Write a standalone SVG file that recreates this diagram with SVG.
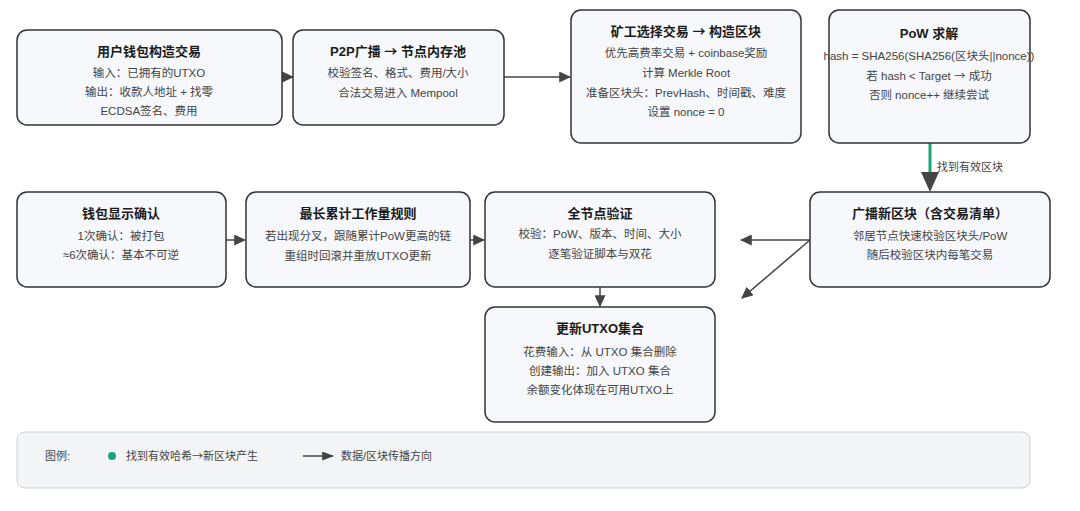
<svg xmlns="http://www.w3.org/2000/svg" width="1080" height="511" viewBox="0 0 1080 511">
<defs>
<style>
text{font-family:"Liberation Sans","Noto Sans CJK SC",sans-serif;text-anchor:middle;fill:#333}
.t{font-size:13px;font-weight:bold;fill:#1a1a1a}
.b{font-size:11.5px;fill:#444}
.n{fill:#f6f8fc;stroke:#333;stroke-width:1.5}
.c{stroke:#444;stroke-width:1.5;fill:none}
.l{text-anchor:start;font-size:11px;fill:#444}
.ar{font-family:"Noto Sans CJK SC",sans-serif}
</style>
<marker id="a" viewBox="0 0 10 10" refX="9" refY="5" markerWidth="12" markerHeight="9" markerUnits="userSpaceOnUse" orient="auto" preserveAspectRatio="none"><path d="M0,0L10,5L0,10z" fill="#444"/></marker>
<marker id="ab" viewBox="0 0 10 10" refX="9" refY="5" markerWidth="12" markerHeight="11" markerUnits="userSpaceOnUse" orient="auto" preserveAspectRatio="none"><path d="M0,0L10,5L0,10z" fill="#444"/></marker>
</defs>
<rect width="1080" height="511" fill="#fff"/>
<g id="connectors">
<path class="c" d="M282,77H293" marker-end="url(#ab)"/>
<path class="c" d="M504,77H570" marker-end="url(#ab)"/>
<path d="M930,143V176" stroke="#1aa57a" stroke-width="3" fill="none"/>
<path d="M921,172L939,172L930,192z" fill="#444"/>
<text x="937" y="171" class="l" style="font-size:11px">找到有效区块</text>
<path class="c" d="M810,240H741" marker-end="url(#ab)"/>
<path class="c" d="M810,240L742,298" marker-end="url(#ab)"/>
<path class="c" d="M226,240H245" marker-end="url(#ab)"/>
<path class="c" d="M470,240H484" marker-end="url(#ab)"/>
<path class="c" d="M600,287V306" marker-end="url(#ab)"/>
</g>
<g id="n1"><rect class="n" x="17" y="30" width="265" height="95" rx="10"/>
<text class="t" x="149" y="56">用户钱包构造交易</text>
<text class="b" x="149" y="77">输入：已拥有的UTXO</text>
<text class="b" x="149" y="96">输出：收款人地址 + 找零</text>
<text class="b" x="149" y="115">ECDSA签名、费用</text></g>
<g id="n2"><rect class="n" x="293" y="30" width="211" height="95" rx="10"/>
<text class="t" x="398" y="56">P2P广播 <tspan class="ar">→</tspan> 节点内存池</text>
<text class="b" x="398" y="77">校验签名、格式、费用/大小</text>
<text class="b" x="398" y="97">合法交易进入 Mempool</text></g>
<g id="n3"><rect class="n" x="571" y="10" width="230" height="133" rx="10"/>
<text class="t" x="686" y="36">矿工选择交易 <tspan class="ar">→</tspan> 构造区块</text>
<text class="b" x="686" y="57">优先高费率交易 + coinbase奖励</text>
<text class="b" x="686" y="77">计算 Merkle Root</text>
<text class="b" x="686" y="97">准备区块头：PrevHash、时间戳、难度</text>
<text class="b" x="686" y="116">设置 nonce = 0</text></g>
<g id="n4"><rect class="n" x="829" y="10" width="201" height="133" rx="10"/>
<text class="t" x="929" y="38">PoW 求解</text>
<text class="b" x="929" y="60">hash = SHA256(SHA256(区块头||nonce))</text>
<text class="b" x="929" y="80">若 hash &lt; Target <tspan class="ar">→</tspan> 成功</text>
<text class="b" x="929" y="99">否则 nonce++ 继续尝试</text></g>
<g id="n5"><rect class="n" x="17" y="192" width="209" height="95" rx="10"/>
<text class="t" x="121" y="218">钱包显示确认</text>
<text class="b" x="121" y="240">1次确认：被打包</text>
<text class="b" x="121" y="259">≈6次确认：基本不可逆</text></g>
<g id="n6"><rect class="n" x="246" y="192" width="224" height="95" rx="10"/>
<text class="t" x="358" y="218">最长累计工作量规则</text>
<text class="b" x="358" y="240">若出现分叉，跟随累计PoW更高的链</text>
<text class="b" x="358" y="260">重组时回滚并重放UTXO更新</text></g>
<g id="n7"><rect class="n" x="485" y="192" width="230" height="95" rx="10"/>
<text class="t" x="600" y="218">全节点验证</text>
<text class="b" x="600" y="238">校验：PoW、版本、时间、大小</text>
<text class="b" x="600" y="258">逐笔验证脚本与双花</text></g>
<g id="n8"><rect class="n" x="810" y="192" width="240" height="95" rx="10"/>
<text class="t" x="930" y="218">广播新区块（含交易清单）</text>
<text class="b" x="930" y="240">邻居节点快速校验区块头/PoW</text>
<text class="b" x="930" y="259">随后校验区块内每笔交易</text></g>
<g id="n9"><rect class="n" x="485" y="307" width="230" height="115" rx="10"/>
<text class="t" x="600" y="333">更新UTXO集合</text>
<text class="b" x="600" y="356">花费输入：从 UTXO 集合删除</text>
<text class="b" x="600" y="375">创建输出：加入 UTXO 集合</text>
<text class="b" x="600" y="394">余额变化体现在可用UTXO上</text></g>
<g id="legend"><rect x="17" y="432" width="1013" height="56" rx="8" fill="#f3f4f6" stroke="#d0d0d0"/>
<text class="l" x="45" y="460">图例:</text>
<circle cx="112" cy="456" r="4" fill="#1aa57a"/>
<text class="l" x="126" y="460">找到有效哈希<tspan class="ar">→</tspan>新区块产生</text>
<path class="c" d="M303,456H333" marker-end="url(#a)"/>
<text class="l" x="341" y="460">数据/区块传播方向</text></g>
</svg>
